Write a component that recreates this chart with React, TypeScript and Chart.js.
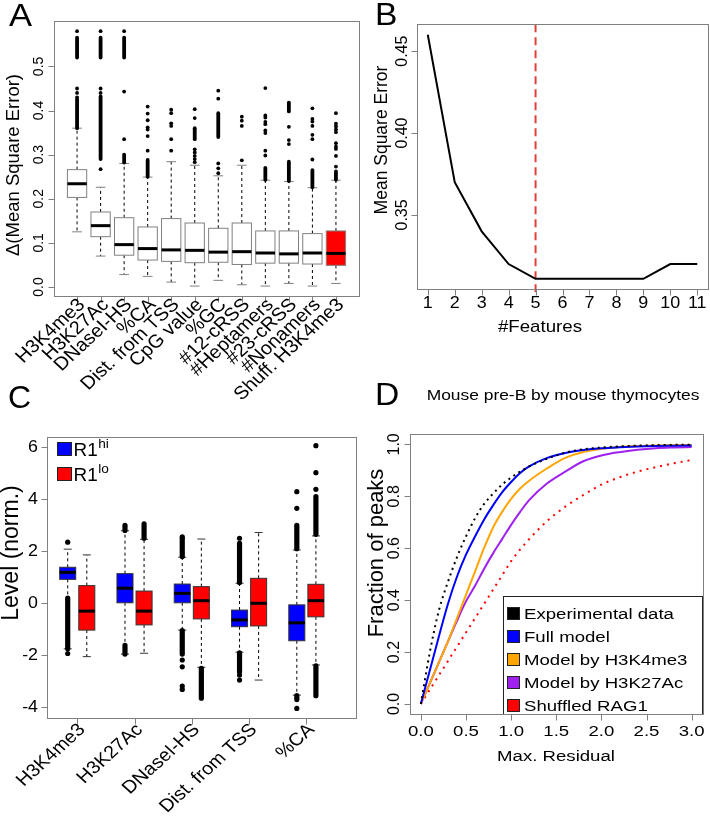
import React, { useEffect, useRef } from "react";
import { Chart, registerables } from "chart.js";
Chart.register(...registerables);

const FONT = '"Liberation Sans", Arial, Helvetica, sans-serif';

// ---------------- Panel A data ----------------
const aCategories = ["H3K4me3", "H3K27Ac", "DNaseI-HS", "%CA", "Dist. from TSS", "CpG value", "%GC", "#12-cRSS", "#Heptamers", "#23-cRSS", "#Nonamers", "Shuff. H3K4me3"];
const aLowWhisker = [0.125, 0.070, 0.028, 0.024, 0.011, 0.002, 0.015, 0.005, 0.002, 0.008, 0.002, 0.008];
const aQ1 = [0.203, 0.114, 0.072, 0.061, 0.058, 0.055, 0.056, 0.051, 0.054, 0.054, 0.052, 0.049];
const aMedian = [0.234, 0.139, 0.096, 0.087, 0.084, 0.083, 0.079, 0.080, 0.077, 0.075, 0.077, 0.076];
const aQ3 = [0.266, 0.170, 0.157, 0.136, 0.155, 0.145, 0.133, 0.145, 0.127, 0.127, 0.121, 0.127];
const aHighWhisker = [0.360, 0.226, 0.280, 0.249, 0.284, 0.276, 0.252, 0.276, 0.242, 0.239, 0.225, 0.242];
const aOutliers = [
  [0.43, 0.44, 0.45, 0.58],
  [0.267, 0.44, 0.45, 0.58],
  [0.335, 0.443, 0.58],
  [0.309, 0.342, 0.357, 0.362, 0.378, 0.393, 0.409],
  [0.309, 0.335, 0.365, 0.371, 0.394, 0.402],
  [0.283, 0.29, 0.297, 0.305, 0.312, 0.383, 0.403],
  [0.258, 0.269, 0.28, 0.427, 0.445],
  [0.287, 0.365, 0.377, 0.386],
  [0.298, 0.309, 0.349, 0.355, 0.369, 0.374, 0.384, 0.389, 0.451],
  [0.284, 0.324, 0.333, 0.363],
  [0.289, 0.335, 0.345, 0.365, 0.375, 0.381, 0.405],
  [0.273, 0.297, 0.313, 0.318, 0.326, 0.351, 0.357, 0.364, 0.37, 0.394],
];
const aOutlierRuns = [
  [[0.36, 0.425], [0.52, 0.565]],
  [[0.29, 0.432], [0.52, 0.565]],
  [[0.282, 0.30], [0.52, 0.565]],
  [[0.25, 0.288]],
  [],
  [[0.335, 0.36]],
  [[0.34, 0.394]],
  [],
  [[0.243, 0.27]],
  [[0.24, 0.28], [0.398, 0.418]],
  [[0.226, 0.265]],
  [[0.243, 0.262]],
];
const aFills = ["#FFFFFF", "#FFFFFF", "#FFFFFF", "#FFFFFF", "#FFFFFF", "#FFFFFF", "#FFFFFF", "#FFFFFF", "#FFFFFF", "#FFFFFF", "#FFFFFF", "#FF0000"];
const aYTicks = [0, 0.1, 0.2, 0.3, 0.4, 0.5];
const aYTickLabels = ["0.0", "0.1", "0.2", "0.3", "0.4", "0.5"];

// ---------------- Panel B data ----------------
const bFeatures = [1, 2, 3, 4, 5, 6, 7, 8, 9, 10, 11];
const bMSE = [0.460, 0.370, 0.340, 0.320, 0.311, 0.311, 0.311, 0.311, 0.311, 0.320, 0.320];
const bBest = 5;
const bYTicks = [0.35, 0.40, 0.45];
const bYTickLabels = ["0.35", "0.40", "0.45"];

// ---------------- Panel C data ----------------
const cCategories = ["H3K4me3", "H3K27Ac", "DNaseI-HS", "Dist. from TSS", "%CA"];
const cGroups = ["R1hi", "R1lo"];
const cHiLow = [-1.75, -1.95, -1.03, -1.88, -3.53];
const cHiQ1 = [0.92, 0.02, 0.02, -0.90, -1.44];
const cHiMed = [1.19, 0.58, 0.38, -0.64, -0.75];
const cHiQ3 = [1.385, 1.14, 0.74, -0.26, -0.06];
const cHiHigh = [2.08, 2.79, 1.77, 0.77, 2.05];
const cLoLow = [-2.05, -1.92, -2.46, -2.95, -2.37];
const cLoQ1 = [-1.03, -0.83, -0.60, -0.87, -0.52];
const cLoMed = [-0.30, -0.30, 0.10, 0.0, 0.10];
const cLoQ3 = [0.68, 0.47, 0.64, 0.96, 0.73];
const cLoHigh = [1.86, 2.46, 2.47, 2.72, 2.59];
const cHiOutliers = [[2.35, -1.93], [], [2.55, -2.18, -2.44, -3.18, -3.31], [2.5, -2.76, -2.95], [3.65, 4.29, -4.04]];
const cHiOutlierRuns = [[[-1.75, 0.2]], [[2.8, 3.0], [-1.95, -1.62]], [[1.8, 2.5], [-1.95, -1.05]], [[0.8, 2.3], [-2.63, -1.9]], [[2.1, 3.0], [-3.7, -3.55]]];
const cLoOutliers = [[], [], [], [], [4.38, 5.02, 6.06]];
const cLoOutlierRuns = [[], [[2.5, 3.05]], [[-3.65, -2.5]], [], [[2.65, 4.1], [-3.55, -2.4]]];
const cYTicks = [-4, -2, 0, 2, 4, 6];

// ---------------- Panel D data ----------------
const dResidual = [0, 0.1, 0.2, 0.3, 0.4, 0.5, 0.6, 0.7, 0.8, 0.9, 1.0, 1.1, 1.2, 1.4, 1.6, 1.8, 2.0, 2.2, 2.4, 2.6, 2.8, 3.0];
const dExperimental = [0, 0.2, 0.36, 0.47, 0.565, 0.645, 0.715, 0.77, 0.81, 0.845, 0.872, 0.895, 0.915, 0.945, 0.968, 0.981, 0.988, 0.992, 0.995, 0.997, 0.998, 0.999];
const dFullModel = [0, 0.13, 0.26, 0.385, 0.49, 0.575, 0.645, 0.71, 0.765, 0.815, 0.855, 0.89, 0.915, 0.948, 0.967, 0.978, 0.985, 0.989, 0.992, 0.994, 0.995, 0.996];
const dH3K4me3 = [0, 0.08, 0.16, 0.24, 0.33, 0.42, 0.51, 0.6, 0.68, 0.74, 0.79, 0.83, 0.86, 0.908, 0.948, 0.971, 0.983, 0.99, 0.994, 0.996, 0.997, 0.998];
const dH3K27Ac = [0, 0.08, 0.16, 0.24, 0.32, 0.395, 0.455, 0.52, 0.58, 0.635, 0.69, 0.74, 0.785, 0.85, 0.895, 0.935, 0.957, 0.97, 0.979, 0.985, 0.988, 0.99];
const dShuffled = [0, 0.055, 0.11, 0.165, 0.22, 0.275, 0.33, 0.385, 0.44, 0.495, 0.55, 0.595, 0.635, 0.705, 0.76, 0.805, 0.845, 0.873, 0.895, 0.912, 0.927, 0.94];
const dSeriesNames = ["Experimental data", "Full model", "Model by H3K4me3", "Model by H3K27Ac", "Shuffled RAG1"];
const dColors = ["#000000", "#0000FF", "#FFA500", "#A020F0", "#FF0000"];
const dXTicks = [0, 0.5, 1.0, 1.5, 2.0, 2.5, 3.0];
const dYTicks = [0, 0.2, 0.4, 0.6, 0.8, 1.0];

// ---------------- helpers ----------------
const GRAY = "#808080";

function txt(ctx: CanvasRenderingContext2D, s: string, x: number, y: number, size: number, o: any = {}) {
  ctx.save();
  ctx.translate(x, y);
  ctx.scale(o.sx ?? 1, 1);
  ctx.rotate(-((o.rot ?? 0) * Math.PI) / 180);
  ctx.font = `${size}px ${FONT}`;
  ctx.fillStyle = o.color ?? "#000";
  ctx.textAlign = o.align ?? "center";
  ctx.textBaseline = o.base ?? "middle";
  ctx.fillText(s, 0, 0);
  ctx.restore();
}

function seg(ctx: CanvasRenderingContext2D, x0: number, y0: number, x1: number, y1: number) {
  ctx.beginPath();
  ctx.moveTo(x0, y0);
  ctx.lineTo(x1, y1);
  ctx.stroke();
}

function frame(ctx: CanvasRenderingContext2D, a: any) {
  ctx.save();
  ctx.strokeStyle = GRAY;
  ctx.lineWidth = 1;
  ctx.strokeRect(Math.round(a.left) + 0.5, Math.round(a.top) + 0.5, Math.round(a.right - a.left), Math.round(a.bottom - a.top));
  ctx.restore();
}

function axisBottom(ctx: CanvasRenderingContext2D, xs: any, a: any, ticks: number[], len = 6) {
  ctx.save();
  ctx.strokeStyle = GRAY;
  ctx.lineWidth = 1;
  const y = Math.round(a.bottom) + 0.5;
  seg(ctx, xs.getPixelForValue(ticks[0]), y, xs.getPixelForValue(ticks[ticks.length - 1]), y);
  ticks.forEach((t) => {
    const x = Math.round(xs.getPixelForValue(t)) + 0.5;
    seg(ctx, x, y, x, y + len);
  });
  ctx.restore();
}

function axisLeft(ctx: CanvasRenderingContext2D, ys: any, a: any, ticks: number[], len = 6) {
  ctx.save();
  ctx.strokeStyle = GRAY;
  ctx.lineWidth = 1;
  const x = Math.round(a.left) + 0.5;
  seg(ctx, x, ys.getPixelForValue(ticks[0]), x, ys.getPixelForValue(ticks[ticks.length - 1]));
  ticks.forEach((t) => {
    const y = Math.round(ys.getPixelForValue(t)) + 0.5;
    seg(ctx, x - len, y, x, y);
  });
  ctx.restore();
}

function drawBox(ctx: CanvasRenderingContext2D, xs: any, ys: any, pos: number, half: number, lo: number, q1: number, med: number, q3: number, hi: number, fill: string, stroke: string) {
  const x = xs.getPixelForValue(pos);
  const x0 = xs.getPixelForValue(pos - half);
  const x1 = xs.getPixelForValue(pos + half);
  const c0 = xs.getPixelForValue(pos - half / 2);
  const c1 = xs.getPixelForValue(pos + half / 2);
  const yl = ys.getPixelForValue(lo), y1 = ys.getPixelForValue(q1), ym = ys.getPixelForValue(med), y3 = ys.getPixelForValue(q3), yh = ys.getPixelForValue(hi);
  ctx.save();
  ctx.lineWidth = 1;
  ctx.strokeStyle = "#000";
  ctx.setLineDash([3, 3]);
  seg(ctx, x, y3, x, yh);
  seg(ctx, x, y1, x, yl);
  ctx.setLineDash([]);
  ctx.strokeStyle = stroke;
  seg(ctx, c0, yh, c1, yh);
  seg(ctx, c0, yl, c1, yl);
  ctx.fillStyle = fill;
  ctx.fillRect(x0, y3, x1 - x0, y1 - y3);
  ctx.strokeRect(x0, y3, x1 - x0, y1 - y3);
  ctx.strokeStyle = "#000";
  ctx.lineWidth = 3;
  seg(ctx, x0, ym, x1, ym);
  ctx.restore();
}

function drawRuns(ctx: CanvasRenderingContext2D, xs: any, ys: any, pos: number, runs: number[][], r: number) {
  ctx.save();
  ctx.strokeStyle = "#000";
  ctx.lineWidth = r * 2;
  ctx.lineCap = "round";
  const x = xs.getPixelForValue(pos);
  runs.forEach((rn) => seg(ctx, x, ys.getPixelForValue(rn[0]), x, ys.getPixelForValue(rn[1])));
  ctx.restore();
}

type Spec = {
  ox: number; oy: number; area: { l: number; t: number; r: number; b: number };
  x: [number, number]; y: [number, number]; datasets: any[];
  before?: (ctx: CanvasRenderingContext2D, xs: any, ys: any, a: any, T: any) => void;
  after?: (ctx: CanvasRenderingContext2D, xs: any, ys: any, a: any, T: any) => void;
};

function makeChart(canvas: HTMLCanvasElement, s: Spec) {
  const W = canvas.width, H = canvas.height;
  const run = (fn: any) => (chart: any) => {
    if (!fn) return;
    const ctx = chart.ctx as CanvasRenderingContext2D;
    const T = (str: string, x: number, y: number, size: number, o: any = {}) => txt(ctx, str, x - s.ox, y - s.oy, size, o);
    fn(ctx, chart.scales.x, chart.scales.y, chart.chartArea, T);
  };
  return new Chart(canvas, {
    type: "scatter",
    data: { datasets: s.datasets },
    options: {
      responsive: false,
      animation: false,
      events: [],
      layout: { padding: { left: s.area.l - s.ox, top: s.area.t - s.oy, right: W - (s.area.r - s.ox), bottom: H - (s.area.b - s.oy) } },
      scales: {
        x: { type: "linear", display: false, min: s.x[0], max: s.x[1] },
        y: { type: "linear", display: false, min: s.y[0], max: s.y[1] },
      },
      plugins: { legend: { display: false }, tooltip: { enabled: false } },
    } as any,
    plugins: [{ id: "rdraw", beforeDatasetsDraw: run(s.before), afterDraw: run(s.after) } as any],
  });
}

// ---------------- panel specs ----------------
function specA(): Spec {
  const pts: any[] = [];
  aOutliers.forEach((arr, i) => arr.forEach((v) => pts.push({ x: i + 1, y: v })));
  return {
    ox: 0, oy: 0, area: { l: 54, t: 21, r: 361.5, b: 296 },
    x: [0.02, 12.98], y: [-0.0205, 0.603],
    datasets: [{ label: "outliers", data: pts, pointRadius: 1.9, backgroundColor: "#000", borderWidth: 0 }],
    before: (ctx, xs, ys) => {
      aCategories.forEach((_, i) => {
        drawBox(ctx, xs, ys, i + 1, 0.41, aLowWhisker[i], aQ1[i], aMedian[i], aQ3[i], aHighWhisker[i], aFills[i], GRAY);
        drawRuns(ctx, xs, ys, i + 1, aOutlierRuns[i], 1.9);
      });
    },
    after: (ctx, xs, ys, a, T) => {
      frame(ctx, a);
      axisLeft(ctx, ys, a, aYTicks);
      axisBottom(ctx, xs, a, aCategories.map((_, i) => i + 1));
      aYTicks.forEach((t, i) => T(aYTickLabels[i], 39, ys.getPixelForValue(t), 14, { rot: 90 }));
      aCategories.forEach((c, i) => T(c, xs.getPixelForValue(i + 1) + 5, 302, 18.5, { rot: 45, align: "right", sx: 1.08 }));
      T("\u0394(Mean Square Error)", 14, 165, 18.5, { rot: 90 });
      T("A", 9, 17, 32, { align: "left", sx: 1.08 });
    },
  };
}

function specB(): Spec {
  return {
    ox: 363, oy: 0, area: { l: 417, t: 24.3, r: 708, b: 289.3 },
    x: [0.6, 11.4], y: [0.3046, 0.4664],
    datasets: [{ label: "MSE", data: bFeatures.map((f, i) => ({ x: f, y: bMSE[i] })), showLine: true, borderColor: "#000", borderWidth: 2, pointRadius: 0, tension: 0 }],
    before: (ctx, xs, ys, a) => {
      ctx.save();
      ctx.strokeStyle = "#E0403A";
      ctx.lineWidth = 2;
      ctx.setLineDash([8, 5]);
      const x = xs.getPixelForValue(bBest);
      seg(ctx, x, a.top, x, a.bottom + 6);
      ctx.restore();
    },
    after: (ctx, xs, ys, a, T) => {
      frame(ctx, a);
      axisLeft(ctx, ys, a, bYTicks);
      axisBottom(ctx, xs, a, bFeatures);
      bYTicks.forEach((t, i) => T(bYTickLabels[i], 403, ys.getPixelForValue(t), 16, { rot: 90 }));
      bFeatures.forEach((f) => T(String(f), xs.getPixelForValue(f) + 363, 304, 16, { sx: 1.12 }));
      T("Mean Square Error", 382, 140, 17.5, { rot: 90 });
      T("#Features", 540, 327, 17, { sx: 1.1 });
      T("B", 375, 16, 32, { align: "left", sx: 1.05 });
    },
  };
}

function specC(): Spec {
  const pts: any[] = [];
  cHiOutliers.forEach((arr, i) => arr.forEach((v) => pts.push({ x: 3 * i + 1, y: v })));
  cLoOutliers.forEach((arr, i) => arr.forEach((v) => pts.push({ x: 3 * i + 2, y: v })));
  return {
    ox: 0, oy: 400, area: { l: 46.7, t: 437.3, r: 358, b: 718.3 },
    x: [-0.1, 16.1], y: [-4.42, 6.38],
    datasets: [{ label: "outliers", data: pts, pointRadius: 2.6, backgroundColor: "#000", borderWidth: 0 }],
    before: (ctx, xs, ys) => {
      cCategories.forEach((_, i) => {
        drawBox(ctx, xs, ys, 3 * i + 1, 0.42, cHiLow[i], cHiQ1[i], cHiMed[i], cHiQ3[i], cHiHigh[i], "#0000FF", "#333");
        drawBox(ctx, xs, ys, 3 * i + 2, 0.42, cLoLow[i], cLoQ1[i], cLoMed[i], cLoQ3[i], cLoHigh[i], "#FF0000", "#333");
        drawRuns(ctx, xs, ys, 3 * i + 1, cHiOutlierRuns[i], 2.6);
        drawRuns(ctx, xs, ys, 3 * i + 2, cLoOutlierRuns[i], 2.6);
      });
    },
    after: (ctx, xs, ys, a, T) => {
      frame(ctx, a);
      axisLeft(ctx, ys, a, cYTicks);
      axisBottom(ctx, xs, a, cCategories.map((_, i) => 3 * i + 1.5));
      cYTicks.forEach((t) => T(String(t), 38, ys.getPixelForValue(t) + 400, 16.5, { align: "right", sx: 1.08 }));
      cCategories.forEach((c, i) => T(c, xs.getPixelForValue(3 * i + 1.5) + 5, 727, 18, { rot: 45, align: "right", sx: 1.1 }));
      T("Level (norm.)", 12, 553, 23, { rot: 90 });
      const items = [{ c: "#0000FF", y: 449 }, { c: "#FF0000", y: 474 }];
      items.forEach((it, k) => {
        ctx.save();
        ctx.fillStyle = it.c;
        ctx.strokeStyle = "#222";
        ctx.lineWidth = 1;
        ctx.fillRect(57.5, it.y - 6.5 - 400, 14, 13);
        ctx.strokeRect(57.5, it.y - 6.5 - 400, 14, 13);
        ctx.restore();
        ctx.font = `18px ${FONT}`;
        const w = ctx.measureText("R1").width * 1.05;
        T("R1", 73.5, it.y + 7, 18, { align: "left", base: "alphabetic", sx: 1.05 });
        T(cGroups[k].slice(2), 73.5 + w + 0.5, it.y - 1, 13, { align: "left", base: "alphabetic", sx: 1.05 });
      });
    },
  };
}

function specD(): Spec {
  const series = [dExperimental, dFullModel, dH3K4me3, dH3K27Ac, dShuffled];
  const dashes = [[2, 4], [], [], [], [2, 5]];
  const datasets = series.map((s, k) => ({
    label: dSeriesNames[k],
    data: dResidual.map((x, i) => ({ x, y: s[i] })),
    showLine: true, borderColor: dColors[k], borderWidth: 2, borderDash: dashes[k], pointRadius: 0, cubicInterpolationMode: "monotone",
  }));
  return {
    ox: 360, oy: 380, area: { l: 410, t: 434, r: 702.5, b: 714.3 },
    x: [-0.12, 3.12], y: [-0.04, 1.04],
    datasets,
    after: (ctx, xs, ys, a, T) => {
      const lx = 503.3 - 360, ly = 596 - 380;
      ctx.save();
      ctx.fillStyle = "#fff";
      ctx.fillRect(lx, ly, a.right - lx, a.bottom - ly);
      ctx.strokeStyle = "#222";
      ctx.lineWidth = 1;
      ctx.strokeRect(Math.round(lx) + 0.5, Math.round(ly) + 0.5, Math.round(a.right - lx), Math.round(a.bottom - ly));
      ctx.restore();
      frame(ctx, a);
      dSeriesNames.forEach((n, k) => {
        const cy = 613.5 + k * 23;
        ctx.save();
        ctx.fillStyle = dColors[k];
        ctx.strokeStyle = "#222";
        ctx.fillRect(507.5 - 360, cy - 6 - 380, 12, 12);
        ctx.strokeRect(507.5 - 360, cy - 6 - 380, 12, 12);
        ctx.restore();
        T(n, 524, cy + 1, 15.5, { align: "left", sx: 1.2 });
      });
      axisLeft(ctx, ys, a, dYTicks);
      axisBottom(ctx, xs, a, dXTicks);
      dYTicks.forEach((t) => T(t.toFixed(1), 395, ys.getPixelForValue(t) + 380, 16, { rot: 90 }));
      dXTicks.forEach((t) => T(t.toFixed(1), xs.getPixelForValue(t) + 360, 732, 15.5, { sx: 1.2 }));
      T("Max. Residual", 556, 757, 15.5, { sx: 1.2 });
      T("Fraction of peaks", 377, 553, 22, { rot: 90 });
      T("Mouse pre-B by mouse thymocytes", 563, 396, 15, { sx: 1.16 });
      T("D", 375, 396, 32, { align: "left", sx: 1.05 });
    },
  };
}

function Letter(props: { s: string; left: number; top: number }) {
  return (
    <div style={{ position: "absolute", left: props.left, top: props.top, font: `32px ${FONT}`, lineHeight: "32px", color: "#000" }}>{props.s}</div>
  );
}

function Panel(props: { left: number; top: number; width: number; height: number; spec: () => Spec }) {
  const ref = useRef<HTMLCanvasElement>(null);
  useEffect(() => {
    const chart = makeChart(ref.current!, props.spec());
    return () => chart.destroy();
  }, []);
  return (
    <canvas ref={ref} width={props.width} height={props.height}
      style={{ position: "absolute", left: props.left, top: props.top, width: props.width, height: props.height }} />
  );
}

export default function App() {
  return (
    <div style={{ position: "absolute", left: 0, top: 0, width: 710, height: 819, background: "#fff", overflow: "hidden" }}>
      <Panel left={0} top={0} width={363} height={400} spec={specA} />
      <Panel left={363} top={0} width={347} height={380} spec={specB} />
      <Panel left={0} top={400} width={360} height={419} spec={specC} />
      <Panel left={360} top={380} width={350} height={439} spec={specD} />
      <Letter s="C" left={8} top={381} />
    </div>
  );
}
